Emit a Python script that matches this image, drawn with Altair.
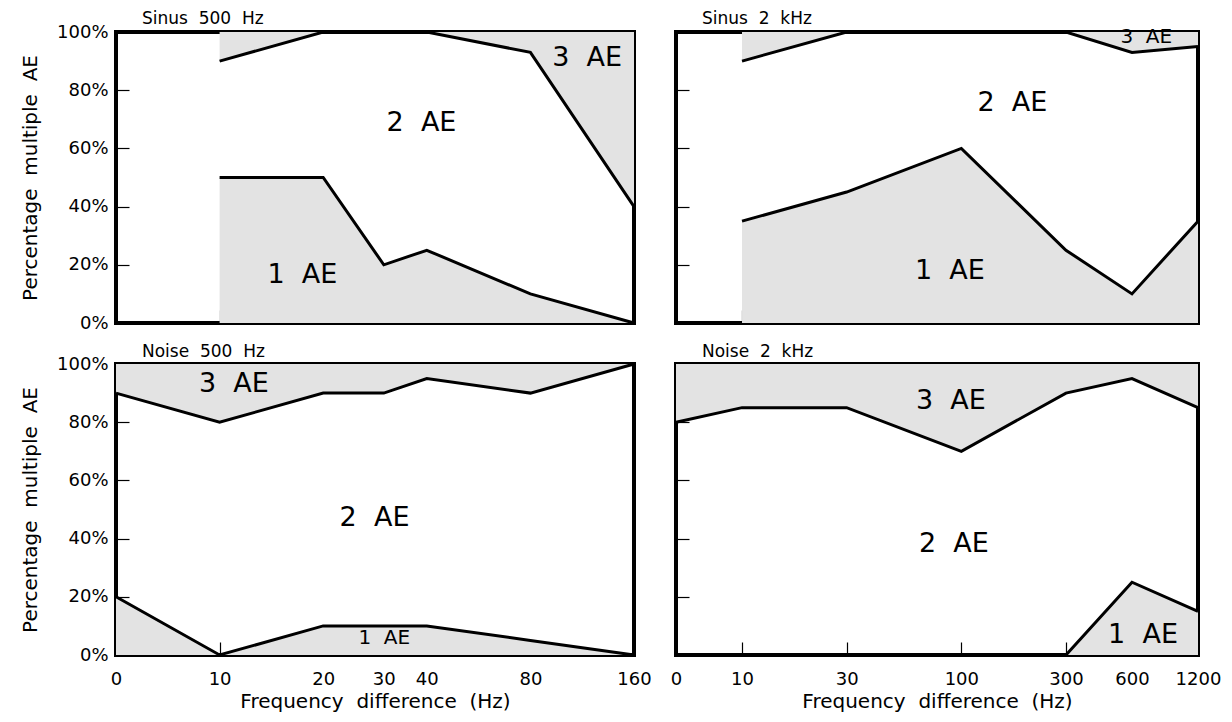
import altair as alt
import pandas as pd

FONT = "DejaVu Sans"
GRAY = "#e3e3e3"
ZERO_POS = 5  # where the "0" Hz tick sits on the log axis
SP = " \u00a0"  # wide word gap as in the reference

# ---------------- data ----------------
# Sinus 500 Hz
s500_freq = [10, 20, 30, 40, 80, 160]
s500_one = [50, 50, 20, 25, 10, 0]          # % with 1 AE
s500_upto2 = [90, 100, 100, 100, 93, 40]    # % with 1 or 2 AE

# Sinus 2 kHz
s2k_freq = [10, 30, 100, 300, 600, 1200]
s2k_one = [35, 45, 60, 25, 10, 35]
s2k_upto2 = [90, 100, 100, 100, 93, 95]

# Noise 500 Hz
n500_freq = [0, 10, 20, 30, 40, 80, 160]
n500_one = [20, 0, 10, 10, 10, 5, 0]
n500_upto2 = [90, 80, 90, 90, 95, 90, 100]

# Noise 2 kHz
n2k_freq = [0, 10, 30, 100, 300, 600, 1200]
n2k_one = [0, 0, 0, 0, 0, 25, 15]
n2k_upto2 = [80, 85, 85, 70, 90, 95, 85]

left_ticks = [0, 10, 20, 30, 40, 80, 160]
right_ticks = [0, 10, 30, 100, 300, 600, 1200]
y_ticks = [0, 20, 40, 60, 80, 100]

# region labels: text, frequency, percentage, font size
s500_labels = [("1" + SP + "AE", 17.4, 16.5, 27), ("2" + SP + "AE", 38.6, 68.7, 27), ("3" + SP + "AE", 117, 91, 27)]
s2k_labels = [("1" + SP + "AE", 88.7, 17.9, 27), ("2" + SP + "AE", 171, 75.6, 27), ("3" + SP + "AE", 697, 98.3, 20)]
n500_labels = [("1" + SP + "AE", 30.1, 5.8, 20), ("2" + SP + "AE", 28.2, 47.1, 27), ("3" + SP + "AE", 11.0, 93.1, 27)]
n2k_labels = [("1" + SP + "AE", 674, 6.9, 27), ("2" + SP + "AE", 92.5, 38.1, 27), ("3" + SP + "AE", 89.6, 87.3, 27)]

TICK = 13


def panel(title, freqs, one, upto2, ticks, labels, width, show_y, show_x, title_dy):
    df = pd.DataFrame({"freq": freqs, "one": one, "upto2": upto2})
    df["zero"] = 0
    df["full"] = 100
    tdf = pd.DataFrame(labels, columns=["text", "freq", "yv", "size"])

    xmax = ticks[-1]
    xs = alt.Scale(type="log", domain=[ZERO_POS, xmax], nice=False)
    ys = alt.Scale(domain=[0, 100], nice=False, zero=False)
    xaxis = alt.Axis(
        values=[ZERO_POS if t == 0 else t for t in ticks],
        labelExpr=f"datum.value == {ZERO_POS} ? '0' : format(datum.value, 'd')",
        labels=show_x,
        title=("Frequency" + SP + "difference" + SP + "(Hz)") if show_x else None,
        tickSize=TICK, offset=-TICK, domain=False, grid=False,
        tickColor="black", tickWidth=1.2,
        labelPadding=15, labelFontSize=18, labelFont=FONT, labelColor="black",
        titleFontSize=20, titleFont=FONT, titleFontWeight="normal", titleColor="black",
        titlePadding=3, labelFlush=False, labelOverlap=False,
    )
    yaxis = alt.Axis(
        values=y_ticks,
        labelExpr="datum.value + '%'",
        labels=show_y,
        title=("Percentage" + SP + "multiple" + SP + "AE") if show_y else None,
        tickSize=TICK, offset=-TICK, domain=False, grid=False,
        tickColor="black", tickWidth=1.2,
        labelPadding=8, labelFontSize=18, labelFont=FONT, labelColor="black",
        titleFontSize=20, titleFont=FONT, titleFontWeight="normal", titleColor="black",
        titlePadding=16, labelFlush=False, labelOverlap=False,
    )

    calc = f"datum.freq == 0 ? {ZERO_POS} : datum.freq"
    base = alt.Chart(df).transform_calculate(pos=calc)
    X = alt.X("pos:Q", scale=xs, axis=xaxis)

    area1 = base.mark_area(color=GRAY, opacity=1).encode(
        x=X, y=alt.Y("zero:Q", scale=ys, axis=yaxis), y2="one:Q")
    area3 = base.mark_area(color=GRAY, opacity=1).encode(
        x=X, y=alt.Y("upto2:Q", scale=ys, axis=yaxis), y2="full:Q")
    line1 = base.mark_line(color="black", strokeWidth=3).encode(
        x=X, y=alt.Y("one:Q", scale=ys, axis=yaxis))
    line2 = base.mark_line(color="black", strokeWidth=3).encode(
        x=X, y=alt.Y("upto2:Q", scale=ys, axis=yaxis))
    text = alt.Chart(tdf).mark_text(font=FONT, color="black", align="center",
                                    baseline="middle").encode(
        x=alt.X("freq:Q", scale=xs, axis=xaxis),
        y=alt.Y("yv:Q", scale=ys, axis=yaxis),
        text="text:N",
        size=alt.Size("size:Q", scale=None),
    )
    return alt.layer(area1, area3, line1, line2, text).properties(
        width=width, height=291,
        title=alt.TitleParams(title, anchor="start", dx=26, dy=title_dy, fontSize=17, frame="group",
                              font=FONT, fontWeight="normal", color="black", offset=5),
    )


LW, RW = 518, 522
p1 = panel("Sinus" + SP + "500" + SP + "Hz", s500_freq, s500_one, s500_upto2, left_ticks, s500_labels, LW, True, False, 10)
p2 = panel("Sinus" + SP + "2" + SP + "kHz", s2k_freq, s2k_one, s2k_upto2, right_ticks, s2k_labels, RW, False, False, 7)
p3 = panel("Noise" + SP + "500" + SP + "Hz", n500_freq, n500_one, n500_upto2, left_ticks, n500_labels, LW, True, True, 11)
p4 = panel("Noise" + SP + "2" + SP + "kHz", n2k_freq, n2k_one, n2k_upto2, right_ticks, n2k_labels, RW, False, True, 3)

row1 = alt.HConcatChart(hconcat=[p1, p2], spacing=42, bounds="flush").resolve_scale(x="independent", y="independent")
row2 = alt.HConcatChart(hconcat=[p3, p4], spacing=42, bounds="flush").resolve_scale(x="independent", y="independent")

chart = alt.VConcatChart(vconcat=[row1, row2], spacing=7).resolve_scale(
    x="independent", y="independent"
).properties(padding={"left": 10, "top": 0, "right": 0, "bottom": 0}, background="white").configure_view(
    stroke="black", strokeWidth=4
)

chart.save("out.html", embed_options={"renderer": "svg", "actions": False})
